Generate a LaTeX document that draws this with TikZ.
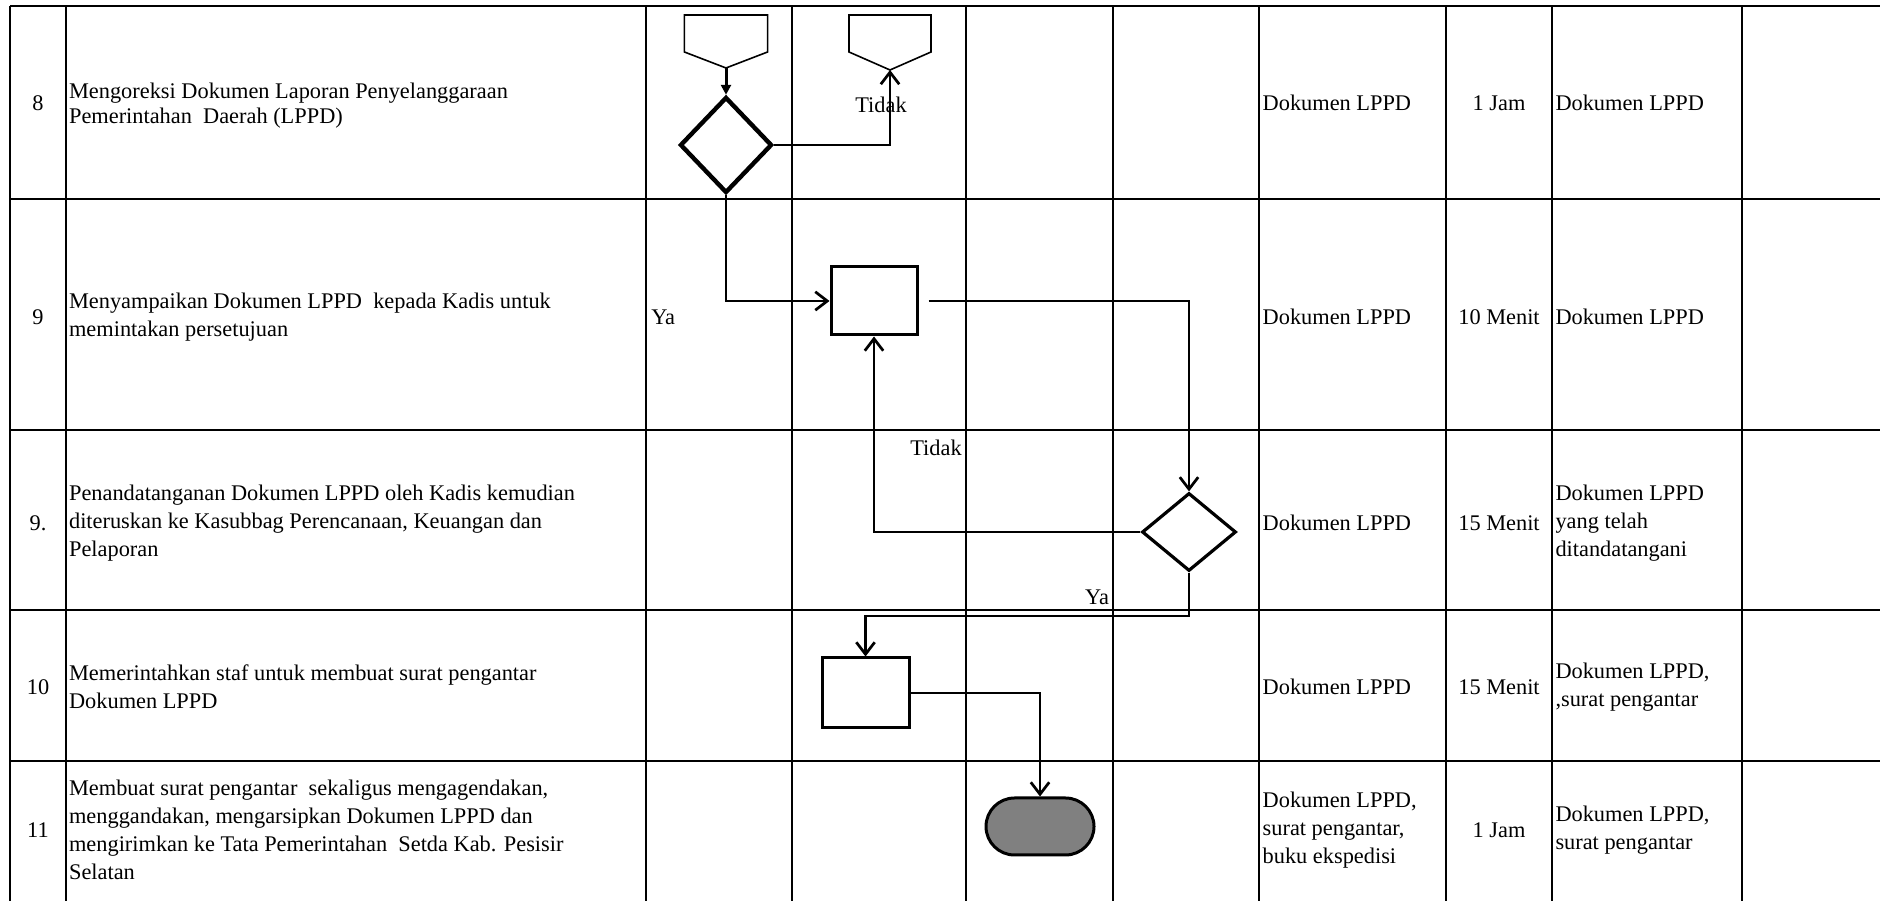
\documentclass[tikz,border=0pt]{standalone}
\usepackage{fontspec}
\setmainfont{Liberation Serif}
\usetikzlibrary{arrows.meta,shapes.geometric,shapes.misc}

\tikzset{
  gridline/.style={line width=0.060cm},
  flowline/.style={line width=0.068cm,-{Straight Barb[length=0.30cm,width=0.46cm]}},
  decision/.style={diamond,draw,line width=0.080cm,inner sep=0pt,minimum width=2.350000cm,minimum height=1.950000cm},
  process/.style={rectangle,draw,line width=0.075cm,inner sep=0pt,minimum width=2.150000cm,minimum height=1.700000cm},
  terminal/.style={rounded rectangle,draw,fill=gray,line width=0.075cm,inner sep=0pt,minimum width=2.700000cm,minimum height=1.425000cm},
  celltext/.style={anchor=west,align=left,inner sep=0pt}
}

\begin{document}
\begin{tikzpicture}
                    \useasboundingbox (0,0) rectangle (47.000000,22.525000);
                    {\fontsize{15.9pt}{19.9pt}\selectfont

                    % Drawing row lines
                    \draw [gridline] (0.250000,22.375000) -- (47.000000,22.375000);%
                    \draw [gridline] (0.250000,17.550000) -- (47.000000,17.550000);%
                    \draw [gridline] (0.250000,11.775000) -- (47.000000,11.775000);%
                    \draw [gridline] (0.250000,7.275000) -- (47.000000,7.275000);%
                    \draw [gridline] (0.250000,3.500000) -- (47.000000,3.500000);%

                    % Drawing column lines
                    \draw [gridline] (0.250000,22.375000) -- (0.250000,0.000000);%
                    \draw [gridline] (1.650000,22.375000) -- (1.650000,0.000000);%
                    \draw [gridline] (16.150000,22.375000) -- (16.150000,0.000000);%
                    \draw [gridline] (19.800000,22.375000) -- (19.800000,0.000000);%
                    \draw [gridline] (24.150000,22.375000) -- (24.150000,0.000000);%
                    \draw [gridline] (27.825000,22.375000) -- (27.825000,0.000000);%
                    \draw [gridline] (31.475000,22.375000) -- (31.475000,0.000000);%
                    \draw [gridline] (36.150000,22.375000) -- (36.150000,0.000000);%
                    \draw [gridline] (38.800000,22.375000) -- (38.800000,0.000000);%
                    \draw [gridline] (43.550000,22.375000) -- (43.550000,0.000000);%

                    % Marking step numbers
                    \draw (0.950000,19.950000) node (no8) {8};%
                    \draw (0.950000,14.600000) node (no9) {9};%
                    \draw (0.950000,9.450000) node (no9b) {9.};%
                    \draw (0.950000,5.350000) node (no10) {10};%
                    \draw (0.950000,1.775000) node (no11) {11};%

                    % Marking activities
                    \draw (1.720000,19.880000) node (act8txt) [celltext] {Mengoreksi Dokumen Laporan Penyelanggaraan\\[-2pt]Pemerintahan~ Daerah (LPPD)};%
                    \draw (1.720000,14.600000) node (act9txt) [celltext] {Menyampaikan Dokumen LPPD~ kepada Kadis untuk\\memintakan persetujuan};%
                    \draw (1.720000,9.450000) node (act9btxt) [celltext] {Penandatanganan Dokumen LPPD oleh Kadis kemudian\\diteruskan ke Kasubbag Perencanaan, Keuangan dan\\Pelaporan};%
                    \draw (1.720000,5.350000) node (act10txt) [celltext] {Memerintahkan staf untuk membuat surat pengantar\\Dokumen LPPD};%
                    \draw (1.720000,1.775000) node (act11txt) [celltext] {Membuat surat pengantar~ sekaligus mengagendakan,\\menggandakan, mengarsipkan Dokumen LPPD dan\\mengirimkan ke Tata Pemerintahan~ Setda Kab. Pesisir\\Selatan};%

                    % Marking kelengkapan
                    \draw (31.560000,19.950000) node (kel8) [celltext] {Dokumen LPPD};%
                    \draw (31.560000,14.600000) node (kel9) [celltext] {Dokumen LPPD};%
                    \draw (31.560000,9.450000) node (kel9b) [celltext] {Dokumen LPPD};%
                    \draw (31.560000,5.350000) node (kel10) [celltext] {Dokumen LPPD};%
                    \draw (31.560000,1.775000) node (kel11) [celltext] {Dokumen LPPD,\\surat pengantar,\\buku ekspedisi};%

                    % Marking waktu
                    \draw (37.475000,19.950000) node (wkt8) {1 Jam};%
                    \draw (37.475000,14.600000) node (wkt9) {10 Menit};%
                    \draw (37.475000,9.450000) node (wkt9b) {15 Menit};%
                    \draw (37.475000,5.350000) node (wkt10) {15 Menit};%
                    \draw (37.475000,1.775000) node (wkt11) {1 Jam};%

                    % Marking output
                    \draw (38.880000,19.950000) node (out8) [celltext] {Dokumen LPPD};%
                    \draw (38.880000,14.600000) node (out9) [celltext] {Dokumen LPPD};%
                    \draw (38.880000,9.450000) node (out9b) [celltext] {Dokumen LPPD\\yang telah\\ditandatangani};%
                    \draw (38.880000,5.350000) node (out10) [celltext] {Dokumen LPPD,\\,surat pengantar};%
                    \draw (38.880000,1.775000) node (out11) [celltext] {Dokumen LPPD,\\surat pengantar};%

                    % Drawing off-page connectors
                    \draw [line width=0.040cm] (17.110000,22.150000) -- (19.190000,22.150000) -- (19.190000,21.225000) -- (18.150000,20.825000) -- (17.110000,21.225000) -- cycle;%
                    \coordinate (src8) at (18.150000,20.825000);
                    \draw [line width=0.040cm] (21.225000,22.150000) -- (23.275000,22.150000) -- (23.275000,21.225000) -- (22.250000,20.775000) -- (21.225000,21.225000) -- cycle;%
                    \coordinate (dst8) at (22.250000,20.775000);

                    % Drawing flow shapes
                    \node (dec8) [decision,line width=0.110cm,minimum width=2.300000cm,minimum height=2.400000cm] at (18.150000,18.900000) {};
                    \node (act9) [process] at (21.850000,15.000000) {};
                    \node (dec9) [decision] at (29.725000,9.225000) {};
                    \node (act10) [process,minimum width=2.175000cm,minimum height=1.750000cm] at (21.637500,5.200000) {};
                    \node (stop11) [terminal] at (26.000000,1.862500) {};
                    \coordinate (bend9) at (29.725000,7.125000);

                    % Drawing connectors
                    \draw [line width=0.075cm,-{Triangle[length=0.25cm,width=0.25cm]}] (src8) -- (dec8.north);%
                    \draw [flowline] (dec8.east) -| (dst8);%
                    \draw [flowline] (dec8.south) |- (act9.west);%
                    \draw [flowline,shorten <=0.250000cm] (act9.east) -| (dec9.north);%
                    \draw [flowline] (dec9.west) -| (act9.south);%
                    \draw [flowline] (dec9.south) -- (bend9) -| (act10.north);%
                    \draw [flowline] (act10.east) -| (stop11.north);%

                    % Marking branch labels
                    \draw (22.025000,19.900000) node (no8lbl) {Tidak};%
                    \draw (16.275000,14.600000) node (yes8lbl) [anchor=west,inner sep=0pt] {Ya};%
                    \draw (23.400000,11.325000) node (no9lbl) {Tidak};%
                    \draw (27.425000,7.600000) node (yes9lbl) {Ya};%
                    }
                \end{tikzpicture}
\end{document}
